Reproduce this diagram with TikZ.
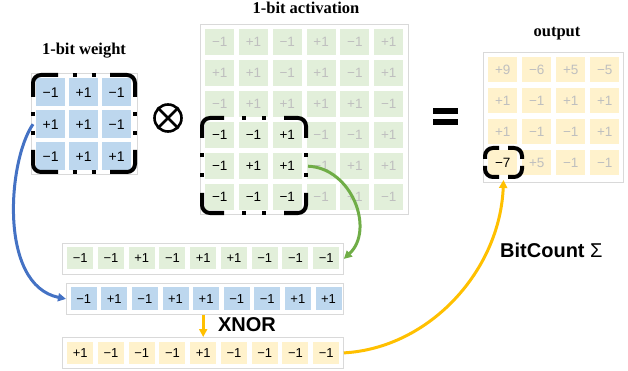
\documentclass[tikz,border=0pt]{standalone}
\usepackage{fontspec}
\setmainfont{Liberation Serif}
\setsansfont{Liberation Sans}
\usetikzlibrary{arrows.meta}
\definecolor{cblue}{HTML}{BDD7EE}
\definecolor{cgreen}{HTML}{E2EFDA}
\definecolor{cyellow}{HTML}{FFF2CC}
\definecolor{ablue}{HTML}{4472C4}
\definecolor{agreen}{HTML}{70AD47}
\definecolor{ayellow}{HTML}{FFC000}
\definecolor{faint}{HTML}{BFBFBF}
\definecolor{framec}{HTML}{D9D9D9}
\tikzset{
  cell/.style={inner sep=0pt, anchor=north west, minimum width=29pt, minimum height=26pt,
    font=\sffamily\fontsize{13.5}{14}\selectfont},
  vcell/.style={inner sep=0pt, anchor=north west, minimum width=26pt, minimum height=22pt,
    font=\sffamily\fontsize{13}{14}\selectfont},
  frame/.style={draw=framec, line width=0.8pt, inner sep=0pt, anchor=north west, fill=white},
  title/.style={font=\bfseries\fontsize{16.5}{18}\selectfont, inner sep=0pt},
  biglabel/.style={font=\sffamily\bfseries\fontsize{20}{22}\selectfont, inner sep=0pt},
  brk/.style={line width=4pt, rounded corners=8pt, line cap=butt},
  brkdot/.style={line width=4pt, line cap=butt},
  arr/.style={line width=3pt, -{Triangle[length=8pt,width=8pt]}},
}
\newcommand\cornerbox[6]{%
  \draw[brk] (#1,#2+#6) -- (#1,#2) -- (#1+#5,#2);
  \draw[brk] (#3-#5,#2) -- (#3,#2) -- (#3,#2+#6);
  \draw[brk] (#3,#4-#6) -- (#3,#4) -- (#3-#5,#4);
  \draw[brk] (#1+#5,#4) -- (#1,#4) -- (#1,#4-#6);
}
\newcommand\brkdots[5]{%
  \foreach \s in {-1,1}{
    \draw[brkdot] ({(#1+#3)/2+\s*#5-2},#2) -- ({(#1+#3)/2+\s*#5+2},#2);
    \draw[brkdot] ({(#1+#3)/2+\s*#5-2},#4) -- ({(#1+#3)/2+\s*#5+2},#4);
    \draw[brkdot] (#1,{(#2+#4)/2+\s*#5-2}) -- (#1,{(#2+#4)/2+\s*#5+2});
    \draw[brkdot] (#3,{(#2+#4)/2+\s*#5-2}) -- (#3,{(#2+#4)/2+\s*#5+2});
  }
}
\begin{document}
\begin{tikzpicture}[x=1pt,y=-1pt]
\useasboundingbox (0,0) rectangle (628,371);

% titles
\node[title] (tw) at (84,51) {1-bit weight};
\node[title] (ta) at (306,8) {1-bit activation};
\node[title] (to) at (557,34) {output};

% weight matrix
\node[frame, minimum width=106pt, minimum height=101pt] (wf) at (31,73) {};
\foreach \v [count=\k from 0] in {−1,+1,−1,+1,+1,−1,−1,+1,+1}{
  \pgfmathtruncatemacro\r{int(\k/3)}
  \pgfmathtruncatemacro\c{mod(\k,3)}
  \node[cell, fill=cblue, minimum height=28pt, font=\sffamily\fontsize{14}{15}\selectfont] (w\r\c) at ({36+33*\c},{78+32*\r}) {\v};
}
\cornerbox{33}{75}{135}{172}{25}{22}
\brkdots{33}{75}{135}{172}{9.5}

% otimes
\node[circle, draw, line width=2.6pt, minimum size=27pt, inner sep=0pt] (ot) at (168,118) {};
\draw[line width=2.6pt] (ot.north east) -- (ot.south west);
\draw[line width=2.6pt] (ot.north west) -- (ot.south east);

% activation matrix
\node[frame, minimum width=208pt, minimum height=190pt] (af) at (200,24) {};
\foreach \v [count=\k from 0] in {−1,+1,−1,+1,−1,+1, +1,+1,−1,+1,−1,+1, −1,+1,+1,+1,+1,−1, −1,−1,+1,−1,−1,+1, −1,+1,+1,−1,+1,+1, −1,−1,−1,−1,+1,−1}{
  \pgfmathtruncatemacro\r{int(\k/6)}
  \pgfmathtruncatemacro\c{mod(\k,6)}
  \def\tc{faint}
  \ifnum\r>2 \ifnum\c<3 \def\tc{black}\fi\fi
  \node[cell, fill=cgreen, text=\tc] (a\r\c) at ({205+33.8*\c},{29+31*\r}) {\v};
}
\cornerbox{202}{118}{306}{213}{22}{20}
\brkdots{202}{118}{306}{213}{10}

% equals
\fill (433,108) rectangle (458,114);
\fill (433,119) rectangle (458,125);

% output matrix
\node[frame, minimum width=140pt, minimum height=130pt] (of) at (483,52) {};
\foreach \v [count=\k from 0] in {+9,−6,+5,−5, +1,−1,+1,+1, +1,−1,−1,+1, −7,+5,−1,−1}{
  \pgfmathtruncatemacro\r{int(\k/4)}
  \pgfmathtruncatemacro\c{mod(\k,4)}
  \def\tc{faint}
  \ifnum\r=3 \ifnum\c=0 \def\tc{black}\fi\fi
  \node[cell, fill=cyellow, text=\tc, minimum height=25pt] (o\r\c) at ({488+34*\c},{57+31*\r}) {\v};
}
\cornerbox{485}{148}{522}{177}{14}{11}

% vector rows
\node[frame, minimum width=281pt, minimum height=31pt] (gf) at (62,243) {};
\foreach \v [count=\k from 0] in {−1,−1,+1,−1,+1,+1,−1,−1,−1}{
  \node[vcell, fill=cgreen] (g\k) at ({67+30.75*\k},247) {\v};
}
\node[frame, minimum width=277pt, minimum height=31pt] (bf) at (66,283) {};
\foreach \v [count=\k from 0] in {−1,+1,−1,+1,+1,−1,−1,+1,+1}{
  \node[vcell, fill=cblue, minimum height=23pt] (b\k) at ({70.5+30.6*\k},287) {\v};
}
\node[frame, minimum width=281pt, minimum height=31pt] (yf) at (62,337) {};
\foreach \v [count=\k from 0] in {+1,−1,−1,−1,+1,−1,−1,−1,−1}{
  \node[vcell, fill=cyellow] (y\k) at ({67+30.75*\k},342) {\v};
}

% labels
\node[biglabel] (xn) at (247,325) {XNOR};
\node[biglabel, anchor=west] (bc) at (500,250) {BitCount {\mdseries Σ}};

% connectors
\coordinate (ws) at ([xshift=-3pt]w10.west);
\draw[arr, ablue] (ws) .. controls (8,160) and (-2,285) .. (bf.west);
\coordinate (as) at ([xshift=6pt]a42.east);
\draw[arr, agreen] (as) .. controls (352,168) and (375,230) .. (gf.east);
\draw[arr, ayellow] (y4.north |- bf.south) -- (y4.north |- yf.north);
\coordinate (oe) at (503.5,180);
\draw[arr, ayellow] (yf.east) .. controls (430,348) and (500,270) .. (oe);
\end{tikzpicture}
\end{document}
